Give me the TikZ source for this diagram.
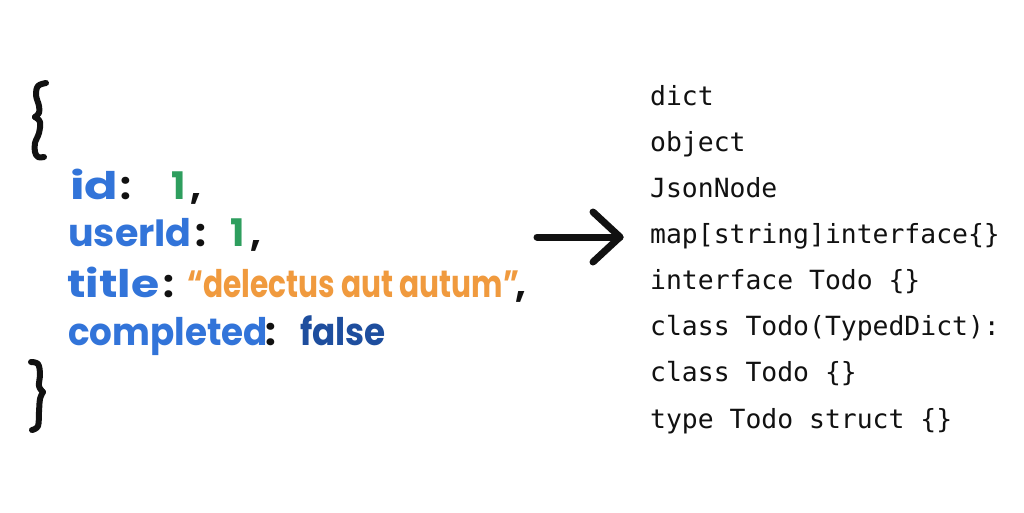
\documentclass[tikz,border=0pt]{standalone}
\usepackage{fontspec}
\usepackage{graphicx}
\newfontfamily\hand{Poppins}
\newfontfamily\mono{DejaVu Sans Mono}
\definecolor{keyblue}{HTML}{3274D9}
\definecolor{numgreen}{HTML}{2E9E5E}
\definecolor{strorange}{HTML}{F09A3E}
\definecolor{boolblue}{HTML}{1E4E9E}
\definecolor{ink}{HTML}{111111}
\tikzset{
  hw/.style={anchor=base west, inner sep=0pt, font=\hand\bfseries\fontsize{38}{42}\selectfont},
  key/.style={hw, text=keyblue},
  num/.style={hw, anchor=base, text=numgreen},
  str/.style={hw, text=strorange},
  bool/.style={hw, text=boolblue},
  punct/.style={hw, anchor=base, text=ink},
  brace/.style={draw=ink, line width=6pt, line cap=round, line join=round},
  typ/.style={anchor=base west, inner sep=0pt, text=ink, font=\mono\fontsize{26.4}{30}\selectfont},
  bigarrow/.style={draw=ink, line width=7pt, line cap=round, line join=round}
}
\begin{document}
\begin{tikzpicture}[x=1pt,y=-1pt]
\fill[white] (0,0) rectangle (1024,512);
\useasboundingbox (0,0) rectangle (1024,512);
% braces
\draw[brace] plot[smooth, tension=0.6] coordinates {(46,83) (38,86) (36,95) (39,106) (39,113) (35,117)};
\draw[brace] plot[smooth, tension=0.6] coordinates {(35,117) (40,122) (39,133) (35,143) (35,152) (38,157) (44,157)};
\draw[brace] plot[smooth, tension=0.6] coordinates {(31,362) (38,364) (40,374) (39,386) (43,392)};
\draw[brace] plot[smooth, tension=0.6] coordinates {(43,392) (40,399) (39,412) (38,426) (32,430)};
% JSON body
\node[key]   (k1) at (70,199) {\scalebox{1.3}[1]{id}};
\node[punct] (c1) at (126,199) {:};
\node[num]   (v1) at (179,199) {1};
\node[punct] (m1) at (196,199) {,};
\node[key]   (k2) at (68,246) {\scalebox{1.0}[1]{userId}};
\node[punct] (c2) at (201,246) {:};
\node[num]   (v2) at (238,246) {1};
\node[punct] (m2) at (256,246) {,};
\node[key]   (k3) at (67,297) {\scalebox{1.2}[1]{title}};
\node[punct] (c3) at (169,297) {:};
\node[str]   (v3) at (187,297) {\scalebox{0.78}[1]{“delectus aut autum”}};
\node[punct] (m3) at (521,297) {,};
\node[key]   (k4) at (68,345) {\scalebox{0.94}[1]{completed}};
\node[punct] (c4) at (271,345) {:};
\node[bool]  (v4) at (300,345) {\scalebox{0.9}[1]{false}};
% arrow
\coordinate (tail) at (537,237);
\coordinate (tip) at (620,237);
\draw[bigarrow] (tail) -- (tip);
\draw[bigarrow] (tip) ++(-27,-25) -- (tip) -- ++(-27,25);
% type list
\node[typ] (t1) at (650,105.0) {dict};
\node[typ] (t2) at (650,151.1) {object};
\node[typ] (t3) at (650,197.3) {JsonNode};
\node[typ] (t4) at (650,243.4) {map[string]interface\{\}};
\node[typ] (t5) at (650,289.6) {interface Todo \{\}};
\node[typ] (t6) at (650,335.7) {class Todo(TypedDict):};
\node[typ] (t7) at (650,381.9) {class Todo \{\}};
\node[typ] (t8) at (650,428.0) {type Todo struct \{\}};
\end{tikzpicture}
\end{document}
